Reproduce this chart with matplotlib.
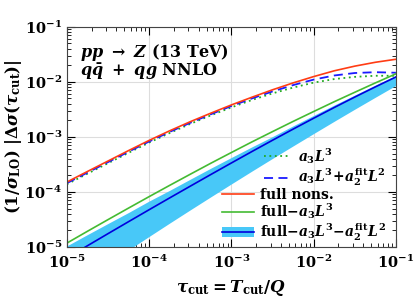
import matplotlib
matplotlib.use("Agg")
import matplotlib.pyplot as plt

plt.rcParams['font.family'] = 'DejaVu Serif'
plt.rcParams['font.weight'] = 'bold'
plt.rcParams['mathtext.fontset'] = 'custom'
plt.rcParams['mathtext.rm'] = 'DejaVu Serif:bold'
plt.rcParams['mathtext.it'] = 'DejaVu Serif:bold:italic'
plt.rcParams['mathtext.bf'] = 'DejaVu Serif:bold'
plt.rcParams['mathtext.cal'] = 'DejaVu Serif:bold:italic'

# log10(tau_cut), quarter-decade steps
log_tau = [-5, -4.75, -4.5, -4.25, -4, -3.75, -3.5, -3.25, -3,
           -2.75, -2.5, -2.25, -2, -1.75, -1.5, -1.25, -1]

# log10 of (1/sigma_LO)|Delta sigma|
log_full_nons = [-3.82, -3.628, -3.438, -3.248, -3.063, -2.888, -2.723, -2.568, -2.418,
                 -2.278, -2.143, -2.018, -1.903, -1.798, -1.713, -1.643, -1.588]
log_a3L3_a2L2 = [-3.84, -3.648, -3.458, -3.268, -3.083, -2.908, -2.743, -2.588, -2.438,
                 -2.300, -2.173, -2.058, -1.958, -1.883, -1.838, -1.823, -1.833]
log_a3L3 = [-3.86, -3.668, -3.478, -3.288, -3.103, -2.928, -2.763, -2.608, -2.463,
            -2.328, -2.208, -2.103, -2.013, -1.948, -1.908, -1.888, -1.888]
log_full_minus_a3 = [-4.93, -4.715, -4.503, -4.293, -4.085, -3.880, -3.678, -3.478, -3.283,
                     -3.090, -2.903, -2.718, -2.538, -2.360, -2.188, -2.018, -1.853]
log_full_minus_both = [-5.20, -4.978, -4.758, -4.540, -4.323, -4.108, -3.895, -3.683, -3.473,
                       -3.265, -3.060, -2.858, -2.660, -2.465, -2.275, -2.090, -1.910]
log_band_hi = [-4.98, -4.775, -4.573, -4.373, -4.165, -3.970, -3.768, -3.568, -3.373,
               -3.180, -2.993, -2.798, -2.608, -2.420, -2.238, -2.058, -1.883]
log_band_lo = [-5.80, -5.550, -5.300, -5.053, -4.808, -4.565, -4.325, -4.088, -3.853,
               -3.620, -3.390, -3.163, -2.938, -2.715, -2.495, -2.278, -2.063]


def p10(v):
    return [10.0 ** x for x in v]


tau = p10(log_tau)

fig = plt.figure(figsize=(4.15, 3.04), dpi=100)
ax = fig.add_axes([0.161, 0.1875, 0.793, 0.724])

band = ax.fill_between(tau, p10(log_band_lo), p10(log_band_hi), color='#48c8f8', lw=0)
l_dot, = ax.plot(tau, p10(log_a3L3), ls=(0, (1, 2)), color='#22aa22', lw=1.3)
l_dash, = ax.plot(tau, p10(log_a3L3_a2L2), ls=(0, (5, 3)), color='#1a1aff', lw=1.3)
l_red, = ax.plot(tau, p10(log_full_nons), color='#ff3c14', lw=1.2)
l_grn, = ax.plot(tau, p10(log_full_minus_a3), color='#44bb33', lw=1.2)
l_blu, = ax.plot(tau, p10(log_full_minus_both), color='#0000dd', lw=1.2)

ax.set_xscale('log')
ax.set_yscale('log')
ax.set_xlim(1e-5, 1e-1)
ax.set_ylim(1e-5, 1e-1)
ax.grid(True, which='major', color='#dddddd', lw=0.8)
ax.set_axisbelow(True)
ax.tick_params(which='both', direction='in', top=True, right=True, labelsize=10.5)
ax.tick_params(which='major', length=6)
ax.tick_params(which='minor', length=3)
ax.tick_params(axis='x', pad=5)
for s in ax.spines.values():
    s.set_color('#444444')

ax.set_xlabel(r'$\tau_{\rm cut} = \mathcal{T}_{\rm cut}/Q$', fontsize=12, labelpad=5)
ax.set_ylabel(r'$(1/\sigma_{\rm LO})\;|\Delta\sigma(\tau_{\rm cut})|$', fontsize=12, labelpad=0)

ax.text(0.04, 0.862, r'$pp\ \rightarrow\ Z$ (13 TeV)', transform=ax.transAxes,
        fontsize=11.5, va='baseline')
ax.text(0.04, 0.775, r'$q\bar{q}\ +\ qg$ NNLO', transform=ax.transAxes,
        fontsize=11.5, va='baseline')

leg1 = ax.legend([l_dot, l_dash], [r'$a_3L^3$', r'$a_3L^3\!+\!a_2^{\rm fit}L^2$'],
                 loc='lower right', bbox_to_anchor=(1.0, 0.222), frameon=False,
                 fontsize=10, handlelength=1.95, handletextpad=0.5,
                 borderpad=0.2, labelspacing=0.1)
ax.add_artist(leg1)
ax.legend([l_red, l_grn, (band, l_blu)],
          ['full nons.', r'full$-a_3L^3$', r'full$-a_3L^3\!-\!a_2^{\rm fit}L^2$'],
          loc='lower right', bbox_to_anchor=(1.0, -0.025), frameon=False,
          fontsize=10, handlelength=2.3, handletextpad=0.45,
          borderpad=0.2, labelspacing=0.0)

fig.savefig('out.png', dpi=100)
